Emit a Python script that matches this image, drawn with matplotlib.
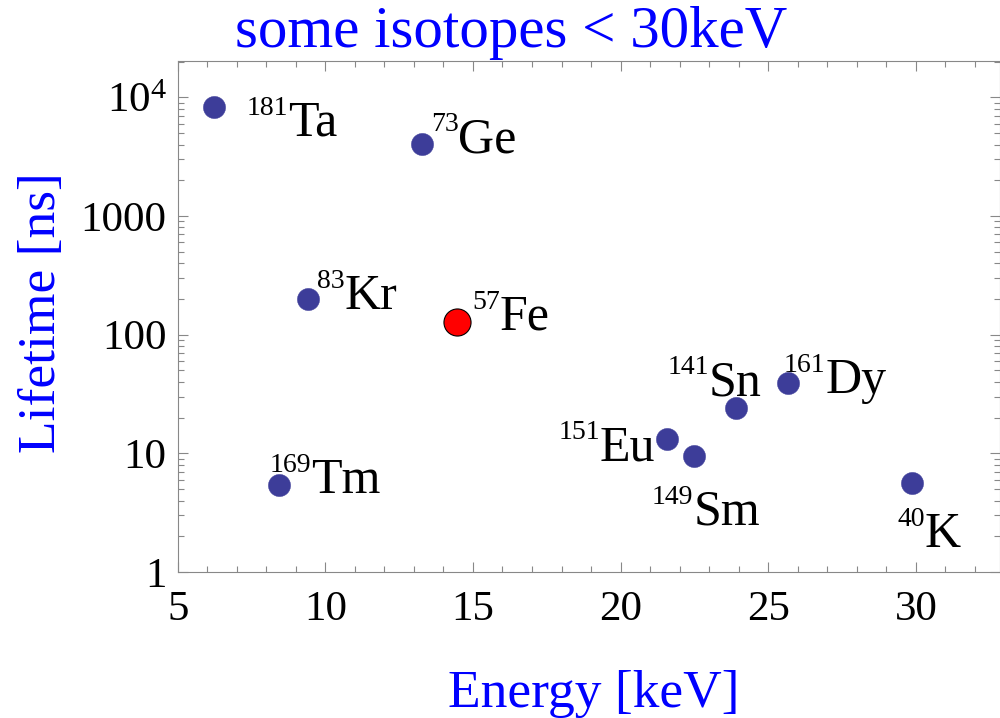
"""
Lifetime vs. transition energy for a few low-energy Moessbauer isotopes.
Log-scale scatter with superscripted isotope labels, written to out.png.
"""

import matplotlib
matplotlib.use("Agg")
import matplotlib.pyplot as plt
from matplotlib.ticker import FixedLocator, MultipleLocator, LogLocator, NullFormatter


# ---------------------------------
# Data
# ---------------------------------
mass_numbers = ["181", "73", "83", "57", "169", "151", "149", "141", "161", "40"]
elements = ["Ta", "Ge", "Kr", "Fe", "Tm", "Eu", "Sm", "Sn", "Dy", "K"]
energy_kev = [6.24, 13.29, 9.42, 14.45, 8.44, 21.57, 22.50, 23.90, 25.68, 29.86]
lifetime_ns = [8318, 4010, 199.5, 128.5, 5.41, 13.1, 9.55, 23.9, 38.9, 5.62]

highlight = "Fe"

y_ticks = [1, 10, 100, 1000, 10000]
y_tick_labels = ["1", "10", "100", "1000", r"$\mathregular{10^4}$"]
x_ticks = [5, 10, 15, 20, 25, 30]

# label anchor (left edge / baseline of element symbol), pixels from the dot
label_offsets = {
    "Ta": (74, -29), "Ge": (36, -8), "Kr": (36, -10), "Fe": (43, -8),
    "Tm": (32, -8), "Eu": (-67, -21), "Sm": (-1, -69), "Sn": (-27, 13),
    "Dy": (37, -10), "K": (13, -64),
}
SUP_RAISE = 21  # pixels

# ---------------------------------
# Style
# ---------------------------------
SERIF = "Liberation Serif"
plt.rcParams["font.family"] = [SERIF, "DejaVu Serif"]
plt.rcParams["mathtext.fontset"] = "custom"
plt.rcParams["mathtext.rm"] = SERIF
plt.rcParams["mathtext.it"] = SERIF + ":italic"

DOT = "#3d3d99"
FRAME = "#888888"
BLUE = "#0000ff"


def main():
    fig = plt.figure(figsize=(10, 7.18), dpi=100)
    ax = fig.add_axes([0.1777, 0.2033, 0.8223, 0.7117])

    for m, el, x, y in zip(mass_numbers, elements, energy_kev, lifetime_ns):
        if el == highlight:
            ax.plot(x, y, "o", ms=19.5, mfc="red", mec="black", mew=0.8, zorder=3)
        else:
            ax.plot(x, y, "o", ms=16, mfc=DOT, mec=DOT, mew=0.3, zorder=3)

        dx, dy = label_offsets[el]
        ax.annotate(el, (x, y), xytext=(dx, dy), textcoords="offset pixels",
                    ha="left", va="baseline", fontsize=36)
        ax.annotate(m, (x, y), xytext=(dx, dy + SUP_RAISE), textcoords="offset pixels",
                    ha="right", va="baseline", fontsize=20)

    ax.set_yscale("log")
    ax.set_xlim(5, 32.85)
    ax.set_ylim(1, 2.02e4)

    ax.xaxis.set_major_locator(FixedLocator(x_ticks))
    ax.xaxis.set_minor_locator(MultipleLocator(1))
    ax.yaxis.set_major_locator(FixedLocator(y_ticks))
    ax.set_yticklabels(y_tick_labels)
    ax.yaxis.set_minor_locator(LogLocator(base=10, subs=range(2, 10)))
    ax.yaxis.set_minor_formatter(NullFormatter())

    for s in ax.spines.values():
        s.set_color(FRAME)
        s.set_linewidth(0.8)

    ax.tick_params(which="both", direction="in", top=True, right=True,
                   color=FRAME, width=0.8, labelsize=31, labelcolor="black")
    ax.tick_params(which="major", length=7)
    ax.tick_params(which="minor", length=4)
    ax.tick_params(axis="x", which="major", pad=13)
    ax.tick_params(axis="y", which="major", pad=8)

    fig.text(0.511, 1 - 46.7 / 718, "some isotopes < 30keV", ha="center",
             va="baseline", fontsize=42.5, color=BLUE)
    fig.text(0.5935, 1 - 706.7 / 718, "Energy [keV]", ha="center",
             va="baseline", fontsize=38.5, color=BLUE)
    fig.text(0.0425, 1 - 312.5 / 718, "Lifetime [ns]", ha="center",
             va="center", rotation=90, fontsize=38.5, color=BLUE)

    fig.savefig("out.png", dpi=100)
    plt.close(fig)


if __name__ == "__main__":
    main()
